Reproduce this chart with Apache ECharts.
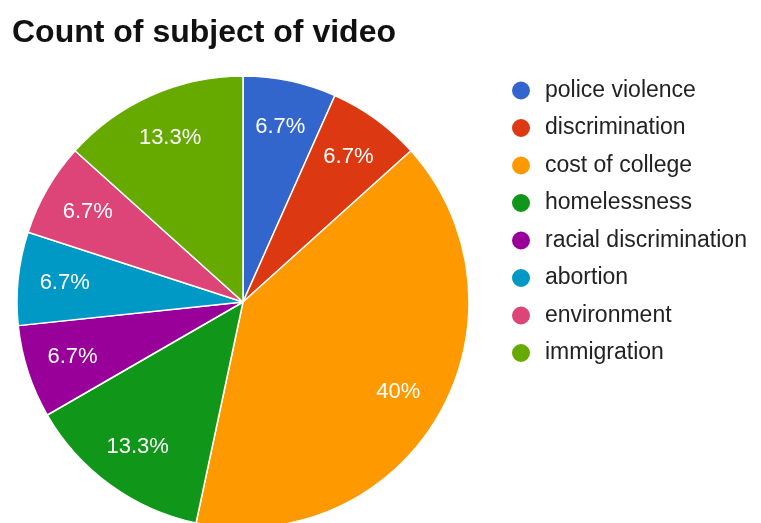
<!DOCTYPE html>
<html>
<head>
<meta charset="utf-8">
<script src="https://cdn.jsdelivr.net/npm/echarts@6/dist/echarts.min.js"></script>
<style>
  html, body { margin: 0; padding: 0; background: #fff; }
  #chart { width: 761px; height: 523px; }
</style>
</head>
<body>
<div id="chart"></div>
<script>
// counts per subject (15 videos)
const subjects = ['police violence', 'discrimination', 'cost of college', 'homelessness',
  'racial discrimination', 'abortion', 'environment', 'immigration'];
const counts = [1, 1, 6, 2, 1, 1, 1, 2];
const colors = ['#3366cc', '#dc3912', '#ff9900', '#109618', '#990099', '#0099c6', '#dd4477', '#66aa00'];

const chart = echarts.init(document.getElementById('chart'));

const sliceData = subjects.map((name, i) => ({ name, value: counts[i] }));
const center = [243, 302];
const R = 226;

chart.setOption({
  animation: false,
  color: colors,
  title: {
    text: 'Count of subject of video',
    left: 7,
    top: 12,
    textStyle: { fontFamily: 'Liberation Sans, Arial', fontWeight: 'bold', fontSize: 32, color: '#111' }
  },
  legend: {
    orient: 'vertical',
    left: 505,
    top: 74,
    icon: 'circle',
    itemWidth: 38,
    itemHeight: 20,
    itemGap: 14.5,
    data: subjects,
    textStyle: { fontFamily: 'Liberation Sans, Arial', fontSize: 23, lineHeight: 23, color: '#222' }
  },
  series: [
    {
      type: 'pie',
      center: center,
      radius: [0, R],
      startAngle: 90,
      clockwise: true,
      silent: true,
      itemStyle: { borderColor: '#fff', borderWidth: 1.5 },
      label: { show: false },
      labelLine: { show: false },
      data: sliceData
    },
    {
      // transparent ring only to place the percent labels further out
      type: 'pie',
      center: center,
      radius: [R * 0.56, R],
      startAngle: 90,
      clockwise: true,
      silent: true,
      itemStyle: { color: 'rgba(0,0,0,0)', borderWidth: 0 },
      label: {
        show: true,
        position: 'inside',
        formatter: p => (Math.round(p.percent * 10) / 10) + '%',
        fontFamily: 'Liberation Sans, Arial',
        fontSize: 22,
        color: '#fff'
      },
      labelLine: { show: false },
      data: sliceData
    }
  ]
});
</script>
</body>
</html>
